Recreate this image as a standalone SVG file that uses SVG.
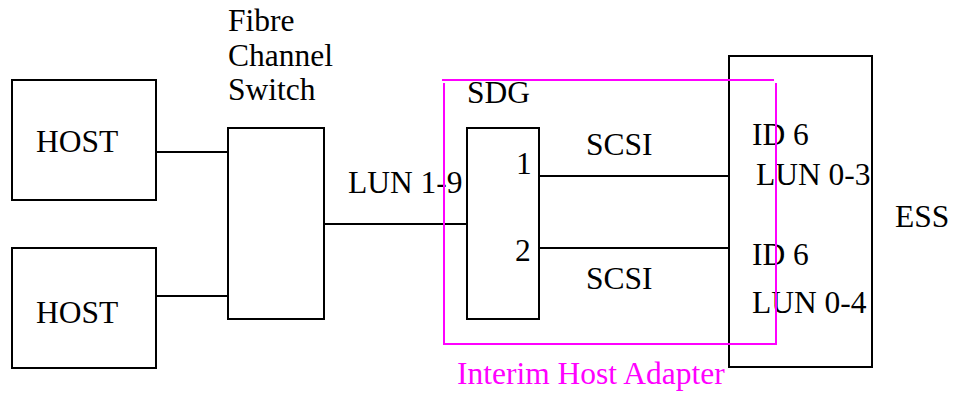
<svg xmlns="http://www.w3.org/2000/svg" width="958" height="393" viewBox="0 0 958 393">
  <style>
    .box { fill: none; stroke: #000; stroke-width: 2; }
    .wire { fill: none; stroke: #000; stroke-width: 2; }
    .lbl { font-family: "Liberation Serif", "Times New Roman", serif; font-size: 31.5px; fill: #000; }
    .adapter { fill: none; stroke: #ff00ff; stroke-width: 2; }
    .adapter-lbl { font-family: "Liberation Serif", "Times New Roman", serif; font-size: 31.5px; fill: #ff00ff; }
  </style>
  <rect width="958" height="393" fill="#fff"/>

  <g id="host1">
    <rect class="box" x="12" y="80" width="144" height="120"/>
    <text class="lbl" x="36" y="152">HOST</text>
  </g>

  <g id="host2">
    <rect class="box" x="12" y="248" width="144" height="120"/>
    <text class="lbl" x="36" y="323">HOST</text>
  </g>

  <g id="switch">
    <rect class="box" x="228" y="128" width="96" height="191"/>
    <text class="lbl" x="228" y="31">Fibre</text>
    <text class="lbl" x="228" y="66">Channel</text>
    <text class="lbl" x="228" y="100">Switch</text>
  </g>

  <g id="sdg">
    <rect class="box" x="467" y="128" width="72" height="191"/>
    <text class="lbl" x="467" y="103">SDG</text>
    <text class="lbl" x="516" y="174">1</text>
    <text class="lbl" x="515" y="261">2</text>
  </g>

  <g id="ess">
    <rect class="box" x="729" y="56" width="143" height="311"/>
    <text class="lbl" x="895" y="227">ESS</text>
    <text class="lbl" x="752" y="145">ID 6</text>
    <text class="lbl" x="756" y="185">LUN 0-3</text>
    <text class="lbl" x="752" y="265">ID 6</text>
    <text class="lbl" x="752" y="313">LUN 0-4</text>
  </g>

  <g id="connectors">
    <line class="wire" x1="156" y1="152" x2="228" y2="152"/>
    <line class="wire" x1="156" y1="296" x2="228" y2="296"/>
    <line class="wire" x1="324" y1="224" x2="467" y2="224"/>
    <line class="wire" x1="539" y1="176" x2="729" y2="176"/>
    <line class="wire" x1="539" y1="248" x2="729" y2="248"/>
    <text class="lbl" x="348" y="193">LUN 1-9</text>
    <text class="lbl" x="586" y="155">SCSI</text>
    <text class="lbl" x="586" y="289">SCSI</text>
  </g>

  <g id="interim-host-adapter">
    <line class="adapter" x1="442" y1="80" x2="774" y2="80"/>
    <polyline class="adapter" points="444,83 444,344 776,344 776,83"/>
    <text class="adapter-lbl" x="457" y="384">Interim Host Adapter</text>
  </g>
</svg>
